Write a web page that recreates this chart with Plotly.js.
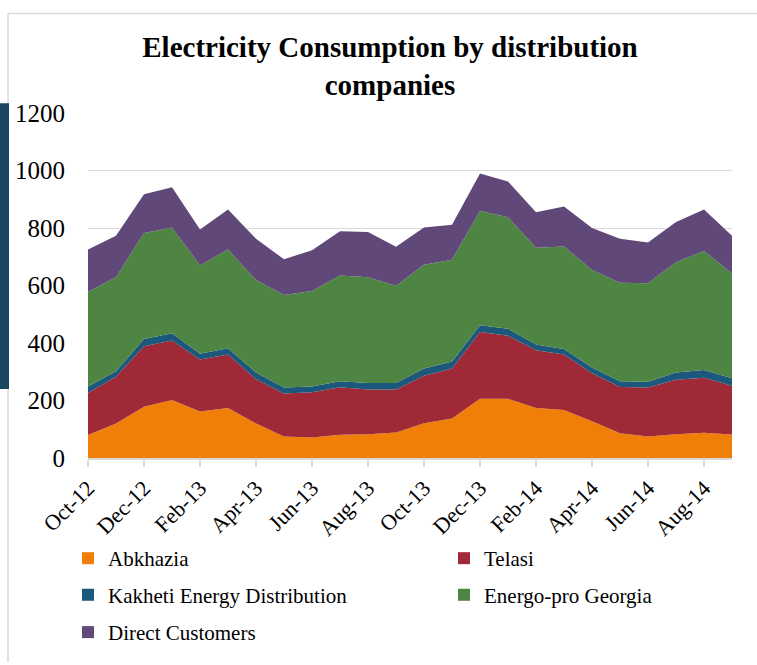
<!DOCTYPE html>
<html>
<head>
<meta charset="utf-8">
<script src="https://cdn.plot.ly/plotly-3.0.1.min.js"></script>
<style>
  html, body { margin: 0; padding: 0; background: #ffffff; }
  #chart { width: 757px; height: 665px; }
</style>
</head>
<body>
<div id="chart"></div>
<script>
// ---- Data ----
var months = ["Oct-12","Nov-12","Dec-12","Jan-13","Feb-13","Mar-13","Apr-13","May-13",
              "Jun-13","Jul-13","Aug-13","Sep-13","Oct-13","Nov-13","Dec-13","Jan-14",
              "Feb-14","Mar-14","Apr-14","May-14","Jun-14","Jul-14","Aug-14","Sep-14"];
var seriesNames = ["Abkhazia", "Telasi", "Kakheti Energy Distribution", "Energo-pro Georgia", "Direct Customers"];
var abkhazia = [80,120,178,202,162,174,120,75,71,81,83,89,121,137,206,206,174,167,128,86,75,83,88,82];
var telasi   = [146,163,211,207,181,186,154,149,158,165,155,149,165,174,232,219,201,193,167,161,170,189,191,169];
var kakheti  = [23,19,25,25,20,22,23,21,20,21,23,23,25,25,24,25,20,19,20,20,20,25,27,26];
var energo   = [329,327,369,368,307,343,322,322,332,368,368,338,361,354,397,387,336,357,339,343,343,384,414,365];
var direct   = [147,144,134,140,125,139,144,124,142,154,157,136,130,121,131,125,124,139,146,153,142,140,144,131];
var yTicks = [0, 200, 400, 600, 800, 1000, 1200];

// ---- Styles ----
var colors = ["#F07F09", "#9F2936", "#1B587C", "#4E8542", "#604878"];
var FONT = "Times New Roman";
var seriesValues = [abkhazia, telasi, kakheti, energo, direct];

// layout geometry (pixels)
var W = 757, H = 665;
var L = 88, R = 25, T = 113, B = 202;
var pw = W - L - R, ph = H - T - B;
function px2x(p) { return (p - L) / pw; }
function px2y(p) { return (H - B - p) / ph; }

var traces = [];
seriesValues.forEach(function (vals, i) {
  traces.push({
    type: "scatter",
    mode: "lines",
    x: months,
    y: vals,
    name: seriesNames[i],
    stackgroup: "one",
    line: { width: 0, color: colors[i] },
    fillcolor: colors[i],
    showlegend: false,
    hoverinfo: "x+y+name"
  });
});

// legend entries (square swatches), one legend per slot to mimic the 2-column layout
var legendIds = ["legend", "legend2", "legend3", "legend4", "legend5"];
seriesNames.forEach(function (nm, i) {
  traces.push({
    type: "scatter",
    mode: "markers",
    x: [null],
    y: [null],
    name: nm,
    legend: legendIds[i],
    marker: { symbol: "square", size: 12, color: colors[i] },
    showlegend: true,
    hoverinfo: "skip"
  });
});

function legendAt(xpx, ypx) {
  return {
    x: px2x(xpx), y: px2y(ypx), xanchor: "left", yanchor: "middle",
    orientation: "v", bgcolor: "rgba(0,0,0,0)", borderwidth: 0,
    font: { family: FONT, size: 21, color: "#000000" }, itemclick: false, itemdoubleclick: false
  };
}
var col1 = 68, col2 = 444;
var row1 = 565, row2 = 602, row3 = 640;

var layout = {
  width: W, height: H,
  margin: { l: L, r: R, t: T, b: B, pad: 0 },
  paper_bgcolor: "#ffffff",
  plot_bgcolor: "#ffffff",
  title: {
    text: "<b>Electricity Consumption by distribution<br>companies</b>",
    font: { family: FONT, size: 29, color: "#000000" },
    xref: "container", x: 390 / W, xanchor: "center",
    yref: "container", y: 1 - 57 / H, yanchor: "top"
  },
  xaxis: {
    type: "category",
    range: [0, months.length - 1],
    tickmode: "linear", tick0: 0, dtick: 2,
    ticks: "outside", ticklen: 7, tickwidth: 1.5, tickcolor: "#D9D9D9",
    showline: true, linecolor: "#D9D9D9", linewidth: 1.5,
    showgrid: false, zeroline: false,
    tickangle: -45,
    tickfont: { family: FONT, size: 22, color: "#000000" },
    fixedrange: true
  },
  yaxis: {
    range: [0, 1200],
    tickmode: "array", tickvals: yTicks, ticktext: yTicks.map(String),
    showgrid: true, gridcolor: "#D9D9D9", gridwidth: 1,
    showline: false, zeroline: false, ticks: "",
    ticklabelstandoff: 22,
    tickfont: { family: FONT, size: 25, color: "#000000" },
    fixedrange: true
  },
  legend:  legendAt(col1, row1),
  legend2: legendAt(col2, row1),
  legend3: legendAt(col1, row2),
  legend4: legendAt(col2, row2),
  legend5: legendAt(col1, row3),
  shapes: [
    // chart frame (top and left edges visible in the reference)
    { type: "line", xref: "paper", yref: "paper", x0: px2x(8), x1: px2x(760), y0: px2y(12), y1: px2y(12),
      line: { color: "#D9D9D9", width: 1.5 } },
    { type: "line", xref: "paper", yref: "paper", x0: px2x(8), x1: px2x(8), y0: px2y(12), y1: px2y(670),
      line: { color: "#D9D9D9", width: 1.5 } },
    // dark bar at the far left
    { type: "rect", xref: "paper", yref: "paper", x0: px2x(0), x1: px2x(9), y0: px2y(393), y1: px2y(103),
      fillcolor: "#1A4661", line: { width: 0 } }
  ],
  showlegend: true
};

Plotly.newPlot("chart", traces, layout, { displayModeBar: false, staticPlot: true });
</script>
</body>
</html>
